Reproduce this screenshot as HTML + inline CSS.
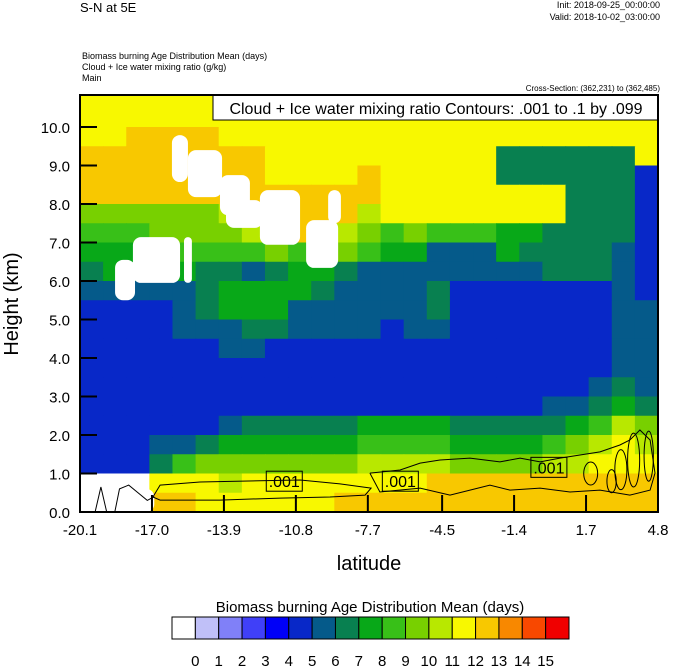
<!DOCTYPE html>
<html><head><meta charset="utf-8">
<style>
html,body{margin:0;padding:0;background:#fff;}
svg{display:block;font-family:"Liberation Sans",Arial,sans-serif;}
</style></head>
<body>
<svg id="chart" width="674" height="668" viewBox="0 0 674 668">
  <text x="80" y="12" font-size="13">S-N at 5E</text>
  <text x="660" y="8" font-size="9" text-anchor="end">Init: 2018-09-25_00:00:00</text>
  <text x="660" y="20" font-size="9" text-anchor="end">Valid: 2018-10-02_03:00:00</text>
  <text x="82" y="59" font-size="9">Biomass burning Age Distribution Mean   (days)</text>
  <text x="82" y="70" font-size="9">Cloud + Ice water mixing ratio   (g/kg)</text>
  <text x="82" y="81" font-size="9">Main</text>
  <text x="660" y="91" font-size="8" text-anchor="end">Cross-Section: (362,231) to (362,485)</text>
  <defs><clipPath id="plotclip"><rect x="80" y="95" width="578" height="417"/></clipPath></defs>
  <g id="cells" clip-path="url(#plotclip)"></g>
  <g id="missing" clip-path="url(#plotclip)"></g>
  <g id="contours" clip-path="url(#plotclip)"></g>
  <rect x="213" y="95" width="445" height="25" fill="#fff" stroke="#000" stroke-width="1"/>
  <text x="436" y="114" font-size="16" text-anchor="middle">Cloud + Ice water mixing ratio Contours: .001 to .1 by .099</text>
  <rect x="80" y="95" width="578" height="417" fill="none" stroke="#000" stroke-width="2"/>
  <g id="axes"></g>
  <text transform="translate(18,304) rotate(-90)" font-size="20" text-anchor="middle">Height (km)</text>
  <text x="369" y="570" font-size="20" text-anchor="middle">latitude</text>
  <text x="370" y="612" font-size="15" text-anchor="middle">Biomass burning Age Distribution Mean  (days)</text>
  <g id="colorbar"></g>
</svg>
<script>
const NS = "http://www.w3.org/2000/svg";
const palette = ["#ffffff","#c0c0f8","#8080f8","#4040f8","#0000f8","#0828c8","#055a8a","#088050","#08a818","#38c018","#78d000","#b8e800","#f8f800","#f8c800","#f88800","#f84800","#f00000"];
const colorbarLabels = ["0","1","2","3","4","5","6","7","8","9","10","11","12","13","14","15"];
const xTicks = [-20.1,-17.0,-13.9,-10.8,-7.7,-4.5,-1.4,1.7,4.8];
const xTickLabels = ["-20.1","-17.0","-13.9","-10.8","-7.7","-4.5","-1.4","1.7","4.8"];
const yTicks = [0,1,2,3,4,5,6,7,8,9,10];
const yTickLabels = ["0.0","1.0","2.0","3.0","4.0","5.0","6.0","7.0","8.0","9.0","10.0"];
const latStart = -20.1, latEnd = 4.8;
const rowHeightKm = 0.5;
// class grid, top row (10.5-11 km) first, 25 latitude columns each
const gridRows = [
"ccccccccccccccccccccccccc",
"ccccccccccccccccccccccccc",
"ccddddccccccccccccccccccc",
"ddddddddcccccccccc777777c",
"ddddddddccccdccccc7777775",
"dddddddddddddcccccccc7775",
"aaaaaabdddddbcccccccc7775",
"999aaaabdddba9a9998877775",
"88899999a99a9886668777765",
"7888877678876666666677765",
"6666678888766667555555565",
"5555678886666667555555566",
"5555666776666566555555566",
"5555556655555555555555566",
"5555555555555555555555566",
"5555555555555555555555676",
"5555555555555555555566787",
"55555567777788887777789ba",
"555667888888999988889abcb",
"55579aaaaaaabbbbaaaabbccc",
"000cccbccccccccdddddddddd",
"000ddccccccdddddddddddddd"
];
// missing-data blobs: [lat0, lat1, h0, h1]
const missingBlobs = [
[-18.59,-17.73,5.5,6.55],[-17.82,-15.79,5.95,7.14],[-15.62,-15.28,5.95,7.14],
[-16.14,-15.45,8.57,9.79],[-15.45,-13.98,8.18,9.4],[-14.07,-12.78,7.71,8.75],
[-13.81,-12.22,7.38,8.1],[-12.35,-10.62,6.94,8.36],[-10.36,-8.98,6.34,7.58],[-9.41,-8.86,7.5,8.36],
[-20.1,-16.9,0,0.6]
];
const contourA = [[-16.96,0.39],[-16.65,0.70],[-14.93,0.78],[-12.35,0.81],[-10.62,0.83],[-8.90,0.73],[-7.56,0.62],[-7.82,0.44],[-9.33,0.39],[-11.48,0.36],[-14.07,0.31],[-16.65,0.31],[-16.96,0.39]];
const contourB1 = [[-7.61,1.01],[-6.31,1.09],[-5.45,1.27],[-4.59,1.35],[-3.30,1.40],[-2.01,1.30],[-1.14,1.40],[-0.28,1.30],[0.58,1.40],[1.44,1.48],[2.30,1.56],[3.16,1.74],[3.59,1.87],[4.02,2.13],[4.46,1.87],[4.67,1.01]];
const contourB2 = [[4.46,0.57],[3.59,0.44],[2.30,0.57],[1.01,0.52],[-0.28,0.62],[-1.58,0.57],[-2.44,0.70],[-3.30,0.57],[-4.16,0.44],[-5.45,0.62],[-7.18,0.52],[-7.61,1.01]];
const contourC = [[-19.45,0],[-19.2,0.65],[-18.95,0],[-18.6,0],[-18.4,0.6],[-18.0,0.7],[-17.6,0.5],[-17.2,0.3],[-16.9,0.4]];
// small loops: [lat, h, halfLat, halfH]
const contourLoops = [[3.2,1.1,0.26,0.52],[3.75,1.35,0.26,0.7],[4.4,1.45,0.2,0.65],[2.8,0.8,0.2,0.3],[1.9,1.0,0.3,0.3]];
// .001 labels: [lat, h]
const contourLabels = [[-11.3,0.8],[-6.3,0.8],[0.1,1.16]];

const X0=80, X1=658, Y0=512, KMPX=38.5;
const xs = lat => X0 + (lat-latStart)/(latEnd-latStart)*(X1-X0);
const ys = h => Y0 - h*KMPX;
const mk = (tag, attrs, parent) => { const e=document.createElementNS(NS,tag); for(const k in attrs) e.setAttribute(k,attrs[k]); parent.appendChild(e); return e; };

const cells = document.getElementById('cells');
const nCols = gridRows[0].length, nRows = gridRows.length;
const dLat = (latEnd-latStart)/nCols;
gridRows.forEach((row, r) => {
  const h1 = (nRows - r) * rowHeightKm, h0 = h1 - rowHeightKm;
  for (let c=0;c<row.length;c++){
    const v = parseInt(row[c],17);
    const xa = xs(latStart + c*dLat), xb = xs(latStart+(c+1)*dLat);
    const e = mk('rect',{x:xa.toFixed(2),y:ys(h1).toFixed(2),width:(xb-xa+0.6).toFixed(2),height:(ys(h0)-ys(h1)+0.6).toFixed(2),fill:palette[v]},cells);
    
    
  }
});
const miss = document.getElementById('missing');
missingBlobs.forEach(b => {
  const xa=xs(b[0]), xb=xs(b[1]), ya=ys(b[3]), yb=ys(b[2]);
  const e = mk('rect',{x:xa,y:ya,width:xb-xa,height:yb-ya,rx:Math.min(8,(xb-xa)/2),fill:'#fff'},miss);
  
  
});
const cg = document.getElementById('contours');
const pts = arr => arr.map(p=>xs(p[0]).toFixed(1)+','+ys(p[1]).toFixed(1)).join(' ');
[contourA, contourB1.concat(contourB2), contourC].forEach(a => {
  const e = mk('polyline',{points:pts(a),fill:'none',stroke:'#000','stroke-width':1},cg);
  
  
});
contourLoops.forEach(l => {
  const e = mk('ellipse',{cx:xs(l[0]),cy:ys(l[1]),rx:xs(l[0]+l[2])-xs(l[0]),ry:ys(l[1])-ys(l[1]+l[3]),fill:'none',stroke:'#000','stroke-width':1},cg);
  
  
});
contourLabels.forEach(l => {
  const cx=xs(l[0]), cy=ys(l[1]);
  const b = mk('rect',{x:cx-18,y:cy-10,width:36,height:20,fill:'none',stroke:'#000','stroke-width':1},cg);
  
  
  const t = mk('text',{x:cx,y:cy+6,'font-size':16,'text-anchor':'middle'},cg);
  t.textContent='.001';
  
  
});
const ax = document.getElementById('axes');
yTicks.forEach((v,i) => {
  const y=ys(v);
  const l = mk('line',{x1:X0,x2:X0+17,y1:y,y2:y,stroke:'#000','stroke-width':2},ax);
  
  
  const t = mk('text',{x:70,y:y+6,'font-size':15,'text-anchor':'end'},ax);
  t.textContent = yTickLabels[i];
  
  
});
xTicks.forEach((v,i) => {
  const x=xs(v);
  const l = mk('line',{x1:x,x2:x,y1:Y0,y2:Y0-17,stroke:'#000','stroke-width':2},ax);
  
  
  const t = mk('text',{x:x,y:535,'font-size':15,'text-anchor':'middle'},ax);
  t.textContent = xTickLabels[i];
  
  
});
const cb = document.getElementById('colorbar');
const cbX=172, cbW=397/palette.length;
palette.forEach((col,i) => {
  const r = mk('rect',{x:cbX+i*cbW,y:617,width:cbW,height:22,fill:col,stroke:'#000','stroke-width':1},cb);
  
  
});
colorbarLabels.forEach((s,i) => {
  const t = mk('text',{x:cbX+(i+1)*cbW,y:666,'font-size':15,'text-anchor':'middle'},cb);
  t.textContent = s;
  
  
});
</script>
</body></html>
